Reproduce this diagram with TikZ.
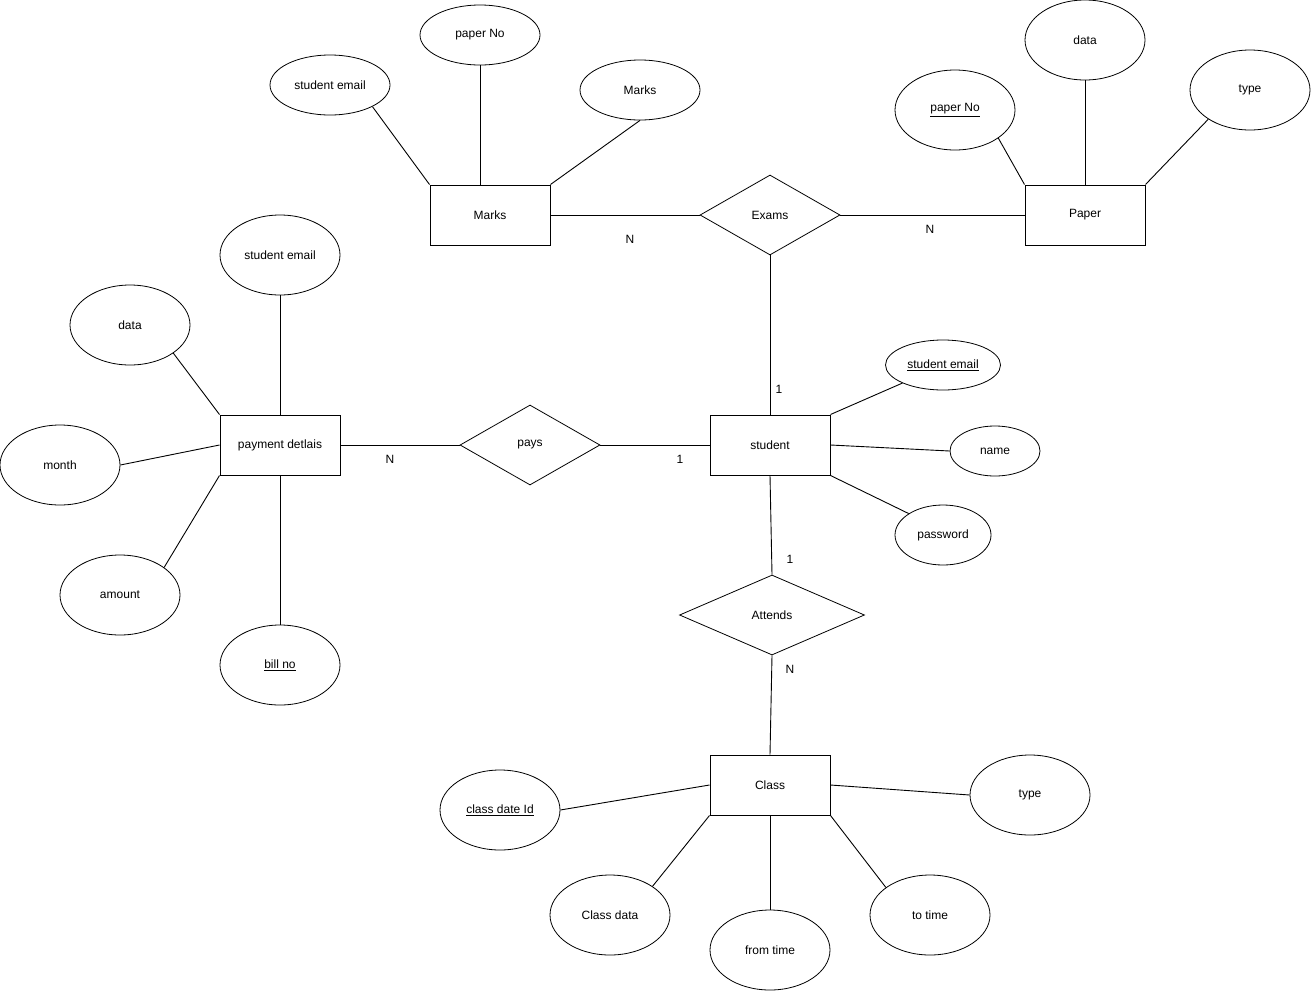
\documentclass[tikz,border=0pt]{standalone}
\usepackage{fontspec}
\setmainfont{Liberation Sans}
\usetikzlibrary{shapes.geometric}
\begin{document}
\begin{tikzpicture}[x=1pt,y=-1pt,
  every node/.style={font=\fontsize{12}{14}\selectfont, inner sep=0pt},
  ent/.style={draw, line width=1pt, rectangle, minimum width=120pt, minimum height=60pt},
  attr/.style={draw, line width=0.8pt, ellipse, minimum width=120pt, minimum height=80pt},
  rel/.style={draw, line width=0.8pt, diamond, minimum width=140pt, minimum height=80pt},
  lnk/.style={line width=0.9pt},
  card/.style={font=\fontsize{12}{14}\selectfont}]
\useasboundingbox (0,0) rectangle (1311,991);
\fill[white] (0,0) rectangle (1311,991);

% entities
\node[ent] (marks) at (490,215) {Marks};
\node[ent] (paper) at (1085,215) {Paper};
\node[ent] (student) at (770,445) {student};
\node[ent] (payment) at (280,445) {payment detlais};
\node[ent] (class) at (770,785) {Class};

% relationships
\node[rel] (exams) at (770,215) {Exams};
\node[rel] (pays) at (530,445) {pays};
\node[rel, minimum width=185pt] (attends) at (772,615) {Attends};

% Marks attributes
\node[attr, minimum height=60pt] (mse) at (330,85) {student email};
\node[attr, minimum height=60pt] (mpn) at (480,35) {paper No};
\node[attr, minimum height=60pt] (mmk) at (640,90) {Marks};

% Paper attributes
\node[attr] (ppn) at (955,110) {\underline{paper No}};
\node[attr] (pdata) at (1085,40) {data};
\node[attr] (ptype) at (1250,90) {type};

% student attributes
\node[attr, minimum width=115pt, minimum height=50pt] (semail) at (943,365) {\underline{student email}};
\node[attr, minimum width=90pt, minimum height=50pt] (sname) at (995,451) {name};
\node[attr, minimum width=96pt, minimum height=60pt] (spass) at (943,535) {password};

% payment attributes
\node[attr] (yse) at (280,255) {student email};
\node[attr] (ydata) at (130,325) {data};
\node[attr] (ymonth) at (60,465) {month};
\node[attr] (yamount) at (120,595) {amount};
\node[attr] (ybill) at (280,665) {\underline{bill no}};

% class attributes
\node[attr] (cid) at (500,810) {\underline{class date Id}};
\node[attr] (ctype) at (1030,795) {type};
\node[attr] (cdata) at (610,915) {Class data};
\node[attr] (cfrom) at (770,950) {from time};
\node[attr] (cto) at (930,915) {to time};

% attribute links
\draw[lnk] (marks.north west) -- (mse.-27);
\draw[lnk] (mpn.south) -- (mpn.south |- marks.north);
\draw[lnk] (marks.north east) -- (mmk.south);
\draw[lnk] (paper.north west) -- (ppn.-33);
\draw[lnk] (paper.north) -- (pdata.south);
\draw[lnk] (paper.north east) -- (ptype.-145);
\draw[lnk] (student.north east) -- (semail.-156);
\draw[lnk] (student.east) -- (sname.west);
\draw[lnk] (student.south east) -- (spass.148);
\draw[lnk] (payment.north) -- (yse.south);
\draw[lnk] (payment.north west) -- (ydata.-33);
\draw[lnk] (payment.west) -- (ymonth.east);
\draw[lnk] (payment.south west) -- (yamount.32);
\draw[lnk] (payment.south) -- (ybill.north);
\draw[lnk] (class.west) -- (cid.east);
\draw[lnk] (class.east) -- (ctype.west);
\draw[lnk] (class.south west) -- (cdata.34);
\draw[lnk] (class.south) -- (cfrom.north);
\draw[lnk] (class.south east) -- (cto.148);

% relationship links
\draw[lnk] (marks.east) -- (exams.west);
\draw[lnk] (exams.east) -- (paper.west);
\draw[lnk] (exams.south) -- (student.north);
\draw[lnk] (payment.east) -- (pays.west);
\draw[lnk] (pays.east) -- (student.west);
\draw[lnk] (student.south) -- (attends.north);
\draw[lnk] (attends.south) -- (class.north);

% cardinalities
\node[card] (c1) at (630,239) {N};
\node[card] (c2) at (930,229) {N};
\node[card] (c3) at (779,389) {1};
\node[card] (c4) at (390,459) {N};
\node[card] (c5) at (680,459) {1};
\node[card] (c6) at (790,559) {1};
\node[card] (c7) at (790,669) {N};
\end{tikzpicture}
\end{document}
